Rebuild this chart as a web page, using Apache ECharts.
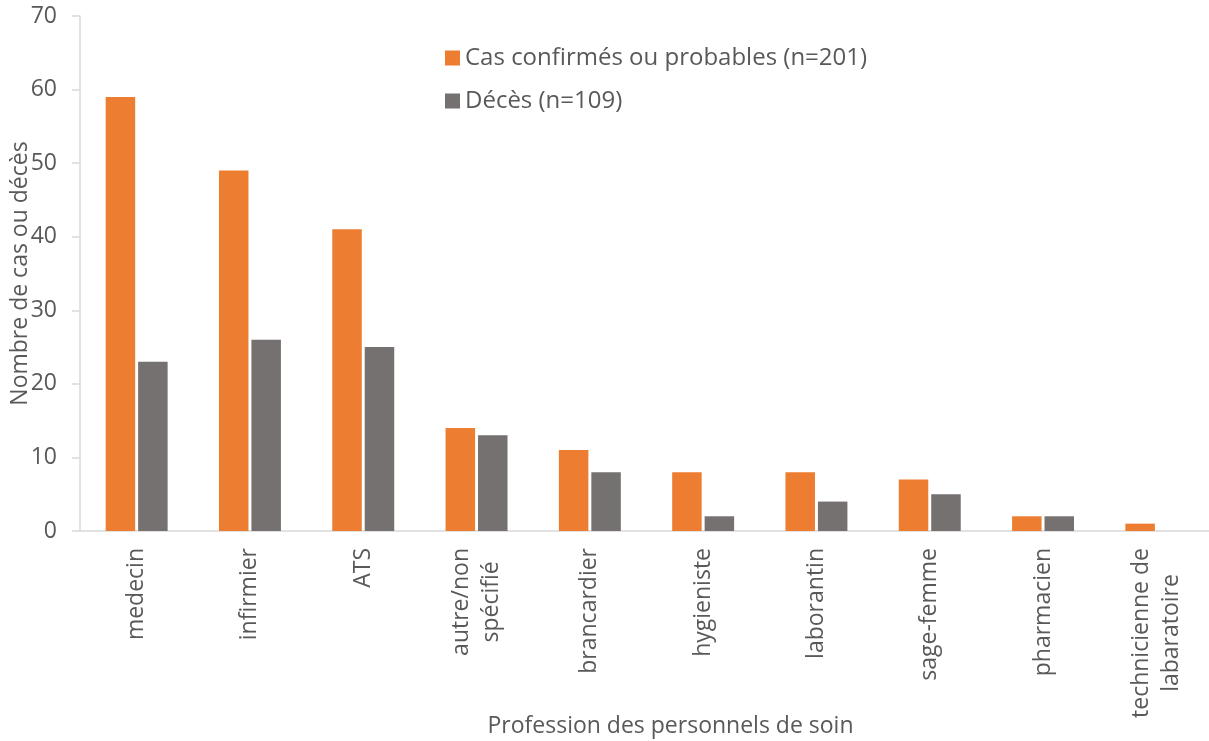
<!DOCTYPE html>
<html>
<head>
<meta charset="utf-8">
<script src="https://cdn.jsdelivr.net/npm/echarts@6/dist/echarts.min.js"></script>
<style>
  html, body { margin: 0; padding: 0; background: #fff; }
  #chart { width: 1209px; height: 741px; }
</style>
</head>
<body>
<div id="chart"></div>
<script>
var categories = ['medecin', 'infirmier', 'ATS', 'autre/non\nspécifié', 'brancardier',
    'hygieniste', 'laborantin', 'sage-femme', 'pharmacien', 'technicienne de\nlabaratoire'];
var casValues = [59, 49, 41, 14, 11, 8, 8, 7, 2, 1];
var decesValues = [23, 26, 25, 13, 8, 2, 4, 5, 2, 0];
var seriesNames = ['Cas confirmés ou probables (n=201)', 'Décès (n=109)'];
var yTicks = [0, 10, 20, 30, 40, 50, 60, 70];

var textColor = '#595959';
var font = 'Open Sans';
var fs = 23;

// lignes centrees comme dans Excel
function labelFormatter(v) {
    var lines = v.split('\n');
    if (lines.length == 1) return v;
    return lines.map(function (l) { return '{c|' + l + '}'; }).join('\n');
}

var myChart = echarts.init(document.getElementById('chart'));
var option = {
    animation: false,
    textStyle: { fontFamily: font },
    grid: { left: 80, top: 16, bottom: 210, right: -4, outerBoundsMode: 'none' },
    legend: {
        orient: 'vertical',
        left: 440,
        top: 41,
        icon: 'rect',
        itemWidth: 15,
        itemHeight: 15,
        itemGap: 19,
        textStyle: { fontSize: 24, color: textColor, fontFamily: font, lineHeight: 24 },
        data: seriesNames
    },
    xAxis: {
        type: 'category',
        data: categories,
        name: 'Profession des personnels de soin',
        nameLocation: 'middle',
        nameGap: 184,
        nameMoveOverlap: false,
        nameTextStyle: { fontSize: fs, color: textColor, fontFamily: font, padding: [0, 0, 0, 48] },
        axisLine: { lineStyle: { color: '#d9d9d9', width: 1.5 } },
        axisTick: { show: false },
        axisLabel: {
            rotate: 90,
            interval: 0,
            margin: 17,
            fontSize: fs,
            color: textColor,
            fontFamily: font,
            lineHeight: 30,
            formatter: labelFormatter,
            rich: { c: { align: 'center', fontSize: fs, color: textColor, fontFamily: font, lineHeight: 30 } }
        }
    },
    yAxis: {
        type: 'value',
        min: yTicks[0],
        max: yTicks[yTicks.length - 1],
        interval: 10,
        name: 'Nombre de cas ou décès',
        nameLocation: 'middle',
        nameRotate: 90,
        nameGap: 48,
        nameMoveOverlap: false,
        nameTextStyle: { fontSize: fs, color: textColor, fontFamily: font },
        axisLine: { show: true, lineStyle: { color: '#d9d9d9', width: 1.5 } },
        axisTick: { show: true, length: 8, lineStyle: { color: '#d9d9d9', width: 1.5 } },
        splitLine: { show: false },
        axisLabel: { fontSize: fs, color: textColor, fontFamily: font, margin: 23 }
    },
    series: [
        {
            name: seriesNames[0],
            type: 'bar',
            data: casValues,
            barWidth: 29.5,
            barGap: '10%',
            itemStyle: { color: '#ED7D31' }
        },
        {
            name: seriesNames[1],
            type: 'bar',
            data: decesValues,
            barWidth: 29.5,
            barGap: '10%',
            itemStyle: { color: '#767171' }
        }
    ]
};
myChart.setOption(option);
</script>
</body>
</html>
